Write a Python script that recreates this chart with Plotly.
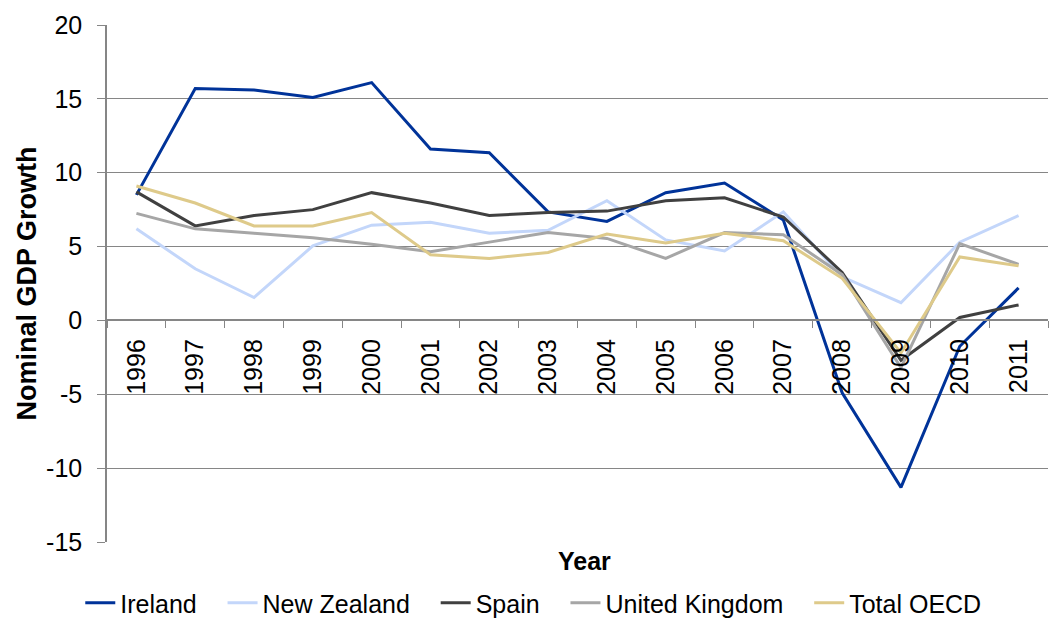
import plotly.graph_objects as go

years = [str(y) for y in range(1996, 2012)]

ireland = [8.5, 15.7, 15.6, 15.1, 16.1, 11.6, 11.35, 7.35, 6.7, 8.65, 9.3, 6.8, -4.9, -11.3, -1.75, 2.2]
new_zealand = [6.2, 3.5, 1.55, 5.05, 6.45, 6.65, 5.9, 6.1, 8.1, 5.45, 4.7, 7.35, 2.95, 1.2, 5.3, 7.1]
spain = [8.7, 6.4, 7.1, 7.5, 8.65, 7.95, 7.1, 7.3, 7.4, 8.1, 8.3, 7.0, 3.25, -2.7, 0.2, 1.05]
united_kingdom = [7.25, 6.2, 5.9, 5.6, 5.15, 4.65, 5.3, 5.95, 5.55, 4.2, 5.95, 5.8, 3.1, -3.2, 5.2, 3.8]
total_oecd = [9.1, 7.95, 6.4, 6.4, 7.3, 4.45, 4.2, 4.6, 5.85, 5.25, 5.9, 5.4, 2.85, -2.2, 4.3, 3.7]

y_ticks = [-15, -10, -5, 0, 5, 10, 15, 20]
y_ticktext = ["-15", "-10", "-5", "0", "5", "10", "15", "20"]

names = ["Ireland", "New Zealand", "Spain", "United Kingdom", "Total OECD"]
series = [ireland, new_zealand, spain, united_kingdom, total_oecd]
colors = ["#003399", "#C3D6FA", "#404040", "#A6A6A6", "#DECA8A"]

font_family = "Liberation Sans, Arial, sans-serif"
axis_grey = "#868686"
pad = "\u00a0\u00a0\u00a0"  # extra room between legend entries

fig = go.Figure()
for i, (name, vals, col) in enumerate(zip(names, series, colors)):
    label = name + (pad if i < len(names) - 1 else "")
    fig.add_trace(go.Scatter(x=years, y=vals, name=label, mode="lines",
                             line=dict(color=col, width=3)))

fig.update_layout(
    width=1050, height=626,
    margin=dict(l=107, r=2, t=25, b=84),
    plot_bgcolor="white", paper_bgcolor="white",
    font=dict(family=font_family, size=25, color="black"),
    xaxis=dict(
        type="category", anchor="free", position=15 / 35, range=[-0.5, 15.5],
        automargin=False,
        showline=True, linecolor=axis_grey, linewidth=1.5,
        ticks="outside", tickson="boundaries", ticklen=7, tickcolor=axis_grey,
        tickangle=-90, ticklabelstandoff=8,
        showgrid=False, zeroline=False,
    ),
    yaxis=dict(
        range=[-15, 20], tickmode="array", tickvals=y_ticks, ticktext=y_ticktext,
        domain=[0, 1], automargin=False,
        showline=True, linecolor=axis_grey, linewidth=1.5,
        ticks="outside", ticklen=8, tickcolor=axis_grey, ticklabelstandoff=10,
        showgrid=True, gridcolor=axis_grey, gridwidth=1, zeroline=False,
        title=dict(text="<b>Nominal GDP Growth</b>", standoff=2,
                   font=dict(size=27)),
    ),
    legend=dict(orientation="h", x=0.453, xanchor="center",
                yref="container", y=-0.035, yanchor="bottom",
                font=dict(size=25), bgcolor="rgba(0,0,0,0)"),
    annotations=[dict(text="<b>Year</b>", x=0.507, y=-0.037, xref="paper", yref="paper",
                      xanchor="center", yanchor="middle", showarrow=False,
                      font=dict(size=25))],
)

# the page body has a default 8px margin; drop it so the chart sits at the corner
fig.write_html("out.html", config={"displayModeBar": False},
               post_script="document.body.style.margin = '0px';")
